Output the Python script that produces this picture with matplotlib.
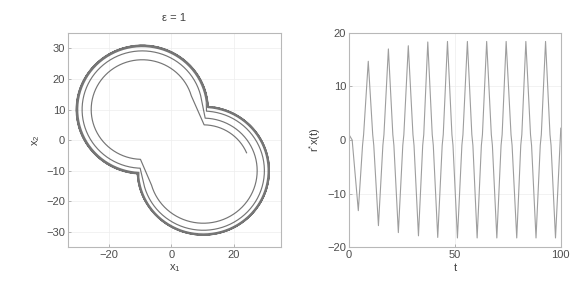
import numpy as np
import matplotlib
matplotlib.use("Agg")
import matplotlib.pyplot as plt
from matplotlib.path import Path
from matplotlib.transforms import Affine2D

plt.rcParams['font.family'] = ['Liberation Sans', 'DejaVu Sans']
plt.rcParams['mathtext.fontset'] = 'custom'
plt.rcParams['mathtext.rm'] = 'Liberation Sans'

# phase portrait: lobe centres and the arcs of the spiral (lobe, radius, start deg, end deg)
lobe_centres = {'C1': (-9.3, 10.0), 'C2': (10.2, -10.0)}
arc_lobe = ['C2', 'C1', 'C2', 'C1', 'C2', 'C1', 'C2', 'C1', 'C2', 'C1', 'C2', 'C1', 'C2']
arc_radius = [15.0, 16.3, 17.2, 19.2, 19.5, 20.6, 20.7, 21.0, 21.0, 21.0, 21.1, 21.1, 21.1]
arc_start = [23, 16, 196, 12, 190, 7, 186, 3, 183, 2.5, 182.5, 2.5, 182.5]
arc_end = [89, 268, 448, 268, 447, 267, 446, 266, 446, 266, 446, 266, 440]

# time series vertices
t_vals = [0, 1.5, 4.4, 6.4, 6.9, 9.1, 11.2, 11.7, 13.9, 16.0, 16.5, 18.6,
          20.7, 21.2, 23.3, 25.4, 25.9, 28.0, 30.2, 30.7, 32.8, 34.8, 35.3, 37.2,
          39.3, 39.8, 41.9, 44.0, 44.5, 46.5, 48.6, 49.1, 51.2, 53.3, 53.8, 55.9,
          58.0, 58.5, 60.5, 62.5, 63.0, 65.0, 67.2, 67.7, 69.8, 71.8, 72.3, 74.2,
          76.5, 77.0, 79.2, 81.1, 81.6, 83.5, 85.7, 86.2, 88.3, 90.3, 90.8, 92.8,
          94.9, 95.4, 97.5, 100]
x_vals = [1.0, 0.0, -13.2, -1.0, 1.0, 14.7, 1.0, -1.0, -16.0, -1.0, 1.0, 17.0,
          1.0, -1.0, -17.3, -1.0, 1.0, 17.6, 1.0, -1.0, -17.9, -1.0, 1.0, 18.3,
          1.0, -1.0, -18.2, -1.0, 1.0, 18.4, 1.0, -1.0, -18.3, -1.0, 1.0, 18.4,
          1.0, -1.0, -18.3, -1.0, 1.0, 18.4, 1.0, -1.0, -18.3, -1.0, 1.0, 18.4,
          1.0, -1.0, -18.3, -1.0, 1.0, 18.4, 1.0, -1.0, -18.3, -1.0, 1.0, 18.4,
          1.0, -1.0, -18.3, 2.2]

fig = plt.figure(figsize=(5.74, 2.91), dpi=100)
ax1 = fig.add_axes([0.1185, 0.151, 0.371, 0.735])
ax2 = fig.add_axes([0.608, 0.151, 0.369, 0.736])

# build the spiral from library arcs, joined end to end
pieces = []
for lobe, r, a0, a1 in zip(arc_lobe, arc_radius, arc_start, arc_end):
    cx, cy = lobe_centres[lobe]
    nseg = max(4, int(abs(a1 - a0) / 4))
    arc = Path.arc(a0, a1, n=nseg).transformed(Affine2D().scale(r).translate(cx, cy))
    pieces.append(arc.to_polygons(closed_only=False)[0])
spiral = np.concatenate(pieces)
ax1.plot(spiral[:, 0], spiral[:, 1], color='0.28', lw=0.85, alpha=0.75)

ax1.set_xlim(-33, 35)
ax1.set_ylim(-35, 35)
ax1.set_xticks([-20, 0, 20])
ax1.set_yticks([-30, -20, -10, 0, 10, 20, 30])
ax1.set_title('ε = 1', fontsize=8, color='0.25', pad=9)
ax1.set_xlabel(r'$\mathrm{x_1}$', fontsize=8, color='0.25', labelpad=2)
ax1.set_ylabel(r'$\mathrm{x_2}$', fontsize=8, color='0.25', labelpad=3)

ax2.plot(t_vals, x_vals, color='0.62', lw=0.8)
ax2.set_xlim(0, 100)
ax2.set_ylim(-20, 20)
ax2.set_xticks([0, 50, 100])
ax2.set_yticks([-20, -10, 0, 10, 20])
ax2.set_xlabel('t', fontsize=8, color='0.25', labelpad=2)
ax2.set_ylabel(r'$\mathrm{r^{*}x(t)}$', fontsize=8, color='0.25', labelpad=3)

for ax in (ax1, ax2):
    ax.grid(True, color='0.93', lw=0.5)
    ax.set_axisbelow(True)
    for sp in ax.spines.values():
        sp.set_color('0.72')
        sp.set_linewidth(0.8)
    ax.tick_params(direction='in', length=2, width=0.5, color='0.6',
                   labelsize=8, labelcolor='0.3', pad=2)

fig.savefig('out.png', dpi=100)
